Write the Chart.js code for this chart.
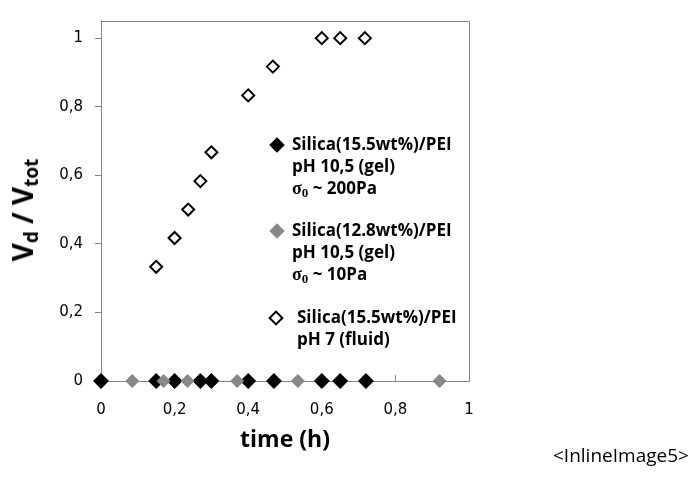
<!DOCTYPE html>
<html>
<head>
<meta charset="utf-8">
<script src="https://cdn.jsdelivr.net/npm/chart.js@4.4.1/dist/chart.umd.min.js"></script>
<style>
    body { margin: 0; background: #fff; }
    #wrap { position: relative; width: 694px; height: 479px; font-family: 'Open Sans', sans-serif; }
    #chart { position: absolute; left: 0; top: 0; }
    .ytitle { position: absolute; left: 22px; top: 210px; transform: translate(-50%, -50%) rotate(-90deg);
        font-weight: bold; font-size: 28px; line-height: 38px; white-space: nowrap; color: #000; }
    .ytitle sub { font-size: 19px; vertical-align: -5px; line-height: 0; }
    .xtitle { position: absolute; left: 285px; top: 438px; transform: translate(-50%, -50%);
        font-weight: bold; font-size: 23px; white-space: nowrap; color: #000; }
    .leg { position: absolute; font-weight: bold; font-size: 17px; line-height: 22px; color: #000; white-space: nowrap; }
    .leg .sig { font-family: 'Liberation Serif', serif; font-size: 18px; }
    .leg .sig sub { font-size: 13px; vertical-align: -3px; line-height: 0; }
    .mk { position: absolute; width: 11px; height: 11px; transform: translate(-50%, -50%) rotate(45deg); box-sizing: border-box; }
    .note { position: absolute; left: 553px; top: 442px; font-size: 19px; color: #000; font-family: 'Open Sans', sans-serif; }
</style>
</head>
<body>
<div id="wrap">
    <canvas id="chart" width="694" height="479"></canvas>
    <div class="ytitle">V<sub>d</sub> / V<sub>tot</sub></div>
    <div class="xtitle">time (h)</div>

    <div class="mk" style="left:277px; top:145px; background:#000;"></div>
    <div class="leg" style="left:292px; top:133px;">Silica(15.5wt%)/PEI<br>pH 10,5 (gel)<br><span class="sig">σ<sub>0</sub></span> ~ 200Pa</div>

    <div class="mk" style="left:277px; top:231px; background:#888;"></div>
    <div class="leg" style="left:292px; top:219px;">Silica(12.8wt%)/PEI<br>pH 10,5 (gel)<br><span class="sig">σ<sub>0</sub></span> ~ 10Pa</div>

    <div class="mk" style="left:276px; top:318px; background:#fff; border:2px solid #000;"></div>
    <div class="leg" style="left:297px; top:306px;">Silica(15.5wt%)/PEI<br>pH 7 (fluid)</div>

    <div class="note">&lt;InlineImage5&gt;</div>
</div>

<script>
// Data
const gel200Time = [0, 0.15, 0.2, 0.27, 0.3, 0.4, 0.47, 0.6, 0.65, 0.72];
const gel200Vd = [0, 0, 0, 0, 0, 0, 0, 0, 0, 0];

const gel10Time = [0.085, 0.17, 0.235, 0.37, 0.535, 0.92];
const gel10Vd = [0, 0, 0, 0, 0, 0];

const fluidTime = [0.15, 0.2, 0.237, 0.27, 0.3, 0.4, 0.467, 0.6, 0.65, 0.717];
const fluidVd = [0.333, 0.417, 0.5, 0.583, 0.667, 0.833, 0.917, 1, 1, 1];

const AXIS_GREY = '#868686';

function toPoints(xs, ys) {
    return xs.map((x, i) => ({ x: x, y: ys[i] }));
}

function commaLabel(value) {
    const v = Math.round(value * 10) / 10;
    return v.toString().replace('.', ',');
}

// Plot frame (top/right) and inward x ticks, like the Excel original
const framePlugin = {
    id: 'frame',
    beforeDatasetsDraw(chart) {
        const ctx = chart.ctx;
        const a = chart.chartArea;
        const xs = chart.scales.x;
        ctx.save();
        ctx.strokeStyle = AXIS_GREY;
        ctx.lineWidth = 1;
        ctx.beginPath();
        ctx.moveTo(a.left, a.top + 0.5);
        ctx.lineTo(a.right + 0.5, a.top + 0.5);
        ctx.lineTo(a.right + 0.5, a.bottom);
        xs.ticks.forEach(t => {
            const px = Math.round(xs.getPixelForValue(t.value)) + 0.5;
            ctx.moveTo(px, a.bottom);
            ctx.lineTo(px, a.bottom - 6);
        });
        ctx.stroke();
        ctx.restore();
    }
};

const ctx = document.getElementById('chart').getContext('2d');

new Chart(ctx, {
    type: 'scatter',
    data: {
        datasets: [
            {
                label: 'Silica(15.5wt%)/PEI pH 10,5 (gel)',
                data: toPoints(gel200Time, gel200Vd),
                pointStyle: 'rectRot',
                pointRadius: 8,
                backgroundColor: '#000',
                borderColor: '#000',
                borderWidth: 0,
                clip: false,
                order: 1
            },
            {
                label: 'Silica(12.8wt%)/PEI pH 10,5 (gel)',
                data: toPoints(gel10Time, gel10Vd),
                pointStyle: 'rectRot',
                pointRadius: 7,
                backgroundColor: '#888888',
                borderColor: '#888888',
                borderWidth: 0,
                clip: false,
                order: 0
            },
            {
                label: 'Silica(15.5wt%)/PEI pH 7 (fluid)',
                data: toPoints(fluidTime, fluidVd),
                pointStyle: 'rectRot',
                pointRadius: 6,
                backgroundColor: '#fff',
                borderColor: '#000',
                borderWidth: 2,
                clip: false,
                order: 2
            }
        ]
    },
    options: {
        responsive: false,
        animation: false,
        layout: {
            padding: { top: 13, right: 225, bottom: 0, left: 0 }
        },
        plugins: {
            legend: { display: false },
            tooltip: { enabled: false }
        },
        scales: {
            x: {
                type: 'linear',
                min: 0,
                max: 1,
                afterFit(scale) { scale.height = 98; },
                border: { color: AXIS_GREY, width: 1 },
                grid: { display: true, drawOnChartArea: false, drawTicks: false, color: AXIS_GREY },
                ticks: {
                    stepSize: 0.2,
                    padding: 20,
                    color: '#000',
                    font: { family: 'DejaVu Sans', size: 15 },
                    callback: commaLabel,
                    maxRotation: 0
                }
            },
            y: {
                min: 0,
                max: 1.05,
                afterFit(scale) { scale.width = 101; },
                border: { color: AXIS_GREY, width: 1 },
                grid: { display: true, drawOnChartArea: false, drawTicks: true, tickLength: 6, color: AXIS_GREY },
                ticks: {
                    stepSize: 0.2,
                    includeBounds: false,
                    padding: 12,
                    color: '#000',
                    font: { family: 'DejaVu Sans', size: 15 },
                    callback: commaLabel
                }
            }
        }
    },
    plugins: [framePlugin]
});
</script>
</body>
</html>
